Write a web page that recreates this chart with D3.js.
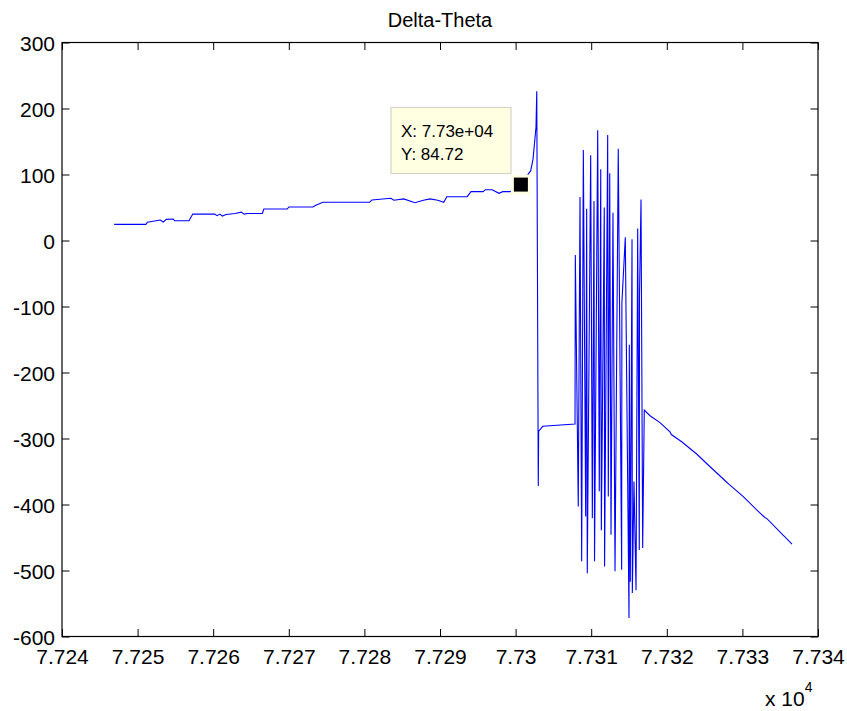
<!DOCTYPE html>
<html>
<head>
<meta charset="utf-8">
<script src="https://cdn.jsdelivr.net/npm/d3@7"></script>
<style>
  html, body { margin: 0; padding: 0; background: #fff; }
  svg { display: block; }
  text { font-family: Arial, "Liberation Sans", Helvetica, sans-serif; fill: #000; }
</style>
</head>
<body>
<svg id="chart" width="847" height="711"></svg>
<script>
// Delta-Theta signal, sample position vs. angle difference
const sampleX = [
  77246.9, 77251.1, 77251.3, 77253.0, 77253.4, 77253.8, 77254.7, 77254.9, 77256.8, 77257.3,
  77260.2, 77260.5, 77260.9, 77261.2, 77261.7, 77262.9, 77263.7, 77264.1, 77264.5, 77266.5,
  77266.7, 77269.8, 77270.0, 77273.2, 77273.5, 77274.5, 77280.7, 77281.0, 77283.5, 77283.9,
  77285.2, 77286.7, 77287.8, 77288.7, 77289.7, 77290.5, 77290.9, 77293.6, 77294.1, 77295.7,
  77296.0, 77296.9, 77297.8, 77298.3, 77299.3, 77300.7, 77302.0, 77302.3, 77302.7, 77302.8,
  77303.0, 77303.05, 77303.6, 77307.86,
  77307.9, 77308.29, 77308.52, 77308.74, 77308.96, 77309.27, 77309.40, 77309.48, 77309.93, 77310.15,
  77310.37, 77310.44, 77310.86, 77311.07, 77311.26, 77311.34, 77311.73, 77311.77, 77312.18, 77312.26,
  77312.45, 77312.62, 77312.88, 77313.15, 77313.58, 77314.03, 77314.06, 77314.51, 77315.00, 77315.04,
  77315.17, 77315.40, 77315.44, 77315.66, 77315.93, 77316.15, 77316.36, 77316.39, 77316.59, 77316.81,
  77317.02,
  77317.78, 77319.10, 77320.42, 77320.6, 77321.97, 77323.95, 77325.62, 77328.0, 77328.2, 77330.12,
  77331.89, 77333.0, 77333.21, 77336.56
];
const deltaTheta = [
  24.5, 24.5, 27.6, 31, 28, 32, 32.6, 30, 30, 40,
  40, 37.6, 40, 37, 39.5, 41, 43, 40, 41, 41,
  47.7, 47.7, 50.8, 50.8, 53, 58, 58, 61.4, 64, 61,
  63, 57.3, 61, 63, 61, 58, 66.4, 66.4, 74, 74,
  77, 77, 71.5, 74, 74, 84.72, 105.8, 123, 172, 226,
  -372, -289, -281.5, -278,
  -22, -403, 66, -486, 137, -418, 48, -504, 129, -421,
  60, -486, 167, -380, 108, -439, 50, -494, 160, -388,
  102, -446, 42, -501, 139, -499, -95, 5, -572, -158,
  -517, 2, -534, -365, -530, 18, -469, -82, 62, -466,
  -257,
  -265.5, -276, -290, -294, -305, -323.5, -341.7, -367, -369, -388,
  -408, -420, -421, -460
];

const xTicks = [77240, 77250, 77260, 77270, 77280, 77290, 77300, 77310, 77320, 77330, 77340];
const xTickLabels = ["7.724", "7.725", "7.726", "7.727", "7.728", "7.729", "7.73", "7.731", "7.732", "7.733", "7.734"];
const yTicks = [-600, -500, -400, -300, -200, -100, 0, 100, 200, 300];
const titleText = "Delta-Theta";
const xExponent = "4";
const tipIndex = 45; // highlighted data point

const svg = d3.select("#chart");
const plot = { left: 62, right: 818, top: 42.5, bottom: 636.5 };
const tickLen = 7.5;

const x = d3.scaleLinear().domain([77240, 77340]).range([plot.left, plot.right]);
const y = d3.scaleLinear().domain([-600, 300]).range([plot.bottom, plot.top]);

// plot background
svg.append("rect")
  .attr("x", plot.left).attr("y", plot.top)
  .attr("width", plot.right - plot.left).attr("height", plot.bottom - plot.top)
  .attr("fill", "#fff");

// data line
const points = sampleX.map((v, i) => [v, deltaTheta[i]]);
const line = d3.line().x(d => x(d[0])).y(d => y(d[1]));
svg.append("path")
  .datum(points)
  .attr("d", line)
  .attr("fill", "none")
  .attr("stroke", "#0000ff")
  .attr("stroke-width", 1.1)
  .attr("stroke-linejoin", "miter");

// axes with inward ticks on all four sides
const axisStyle = g => {
  g.select(".domain").remove();
  g.selectAll(".tick line").attr("stroke", "#000").attr("stroke-width", 1);
  g.selectAll(".tick text")
    .attr("font-family", "Arial, 'Liberation Sans', sans-serif")
    .attr("font-size", 21)
    .attr("fill", "#000");
};

svg.append("g")
  .attr("transform", `translate(0,${plot.bottom})`)
  .call(d3.axisBottom(x).tickValues(xTicks).tickFormat((d, i) => xTickLabels[i])
    .tickSizeInner(-tickLen).tickSizeOuter(0).tickPadding(14))
  .call(axisStyle)
  .call(g => g.selectAll(".tick text").attr("dy", "0.71em").attr("y", 13));

svg.append("g")
  .attr("transform", `translate(0,${plot.top})`)
  .call(d3.axisTop(x).tickValues(xTicks).tickFormat("").tickSizeInner(-tickLen).tickSizeOuter(0))
  .call(axisStyle);

svg.append("g")
  .attr("transform", `translate(${plot.left},0)`)
  .call(d3.axisLeft(y).tickValues(yTicks).tickFormat(d3.format("d"))
    .tickSizeInner(-tickLen).tickSizeOuter(0))
  .call(axisStyle)
  .call(g => g.selectAll(".tick text").attr("x", -7).attr("dy", "0.36em")
    .text(d => String(d)));

svg.append("g")
  .attr("transform", `translate(${plot.right},0)`)
  .call(d3.axisRight(y).tickValues(yTicks).tickFormat("").tickSizeInner(-tickLen).tickSizeOuter(0))
  .call(axisStyle);

// axes box
svg.append("rect")
  .attr("x", plot.left).attr("y", plot.top)
  .attr("width", plot.right - plot.left).attr("height", plot.bottom - plot.top)
  .attr("fill", "none").attr("stroke", "#000").attr("stroke-width", 1.2);

// exponent multiplier
const mult = svg.append("text")
  .attr("x", 765).attr("y", 706)
  .attr("font-size", 21);
mult.append("tspan").text("x 10");
mult.append("tspan").attr("dy", -14).attr("font-size", 14).text(xExponent);

// title
svg.append("text")
  .attr("x", (plot.left + plot.right) / 2).attr("y", 27)
  .attr("text-anchor", "middle")
  .attr("font-size", 20)
  .text(titleText);

// data tip
const tx = sampleX[tipIndex], ty = deltaTheta[tipIndex];
const fmtExp = v => {
  const [m, e] = v.toExponential(2).split("e");
  const sign = e[0] === "-" ? "-" : "+";
  const digits = e.replace(/[+-]/, "").padStart(2, "0");
  return `${m}e${sign}${digits}`;
};
const tipG = svg.append("g");
tipG.append("rect")
  .attr("x", 391).attr("y", 107.5).attr("width", 120).attr("height", 66)
  .attr("fill", "#ffffe1").attr("stroke", "#d4d4c8").attr("stroke-width", 1.2);
tipG.append("text").attr("x", 401).attr("y", 137).attr("font-size", 17)
  .text(`X: ${fmtExp(tx)}`);
tipG.append("text").attr("x", 401).attr("y", 160).attr("font-size", 17)
  .text(`Y: ${d3.format(".2f")(ty)}`);

// highlighted point marker
svg.append("rect")
  .attr("x", x(tx) - 10).attr("y", y(ty) - 10).attr("width", 20).attr("height", 20)
  .attr("fill", "#ffffe6");
svg.append("rect")
  .attr("x", x(tx) - 7).attr("y", y(ty) - 7).attr("width", 14).attr("height", 14)
  .attr("fill", "#000");
</script>
</body>
</html>
